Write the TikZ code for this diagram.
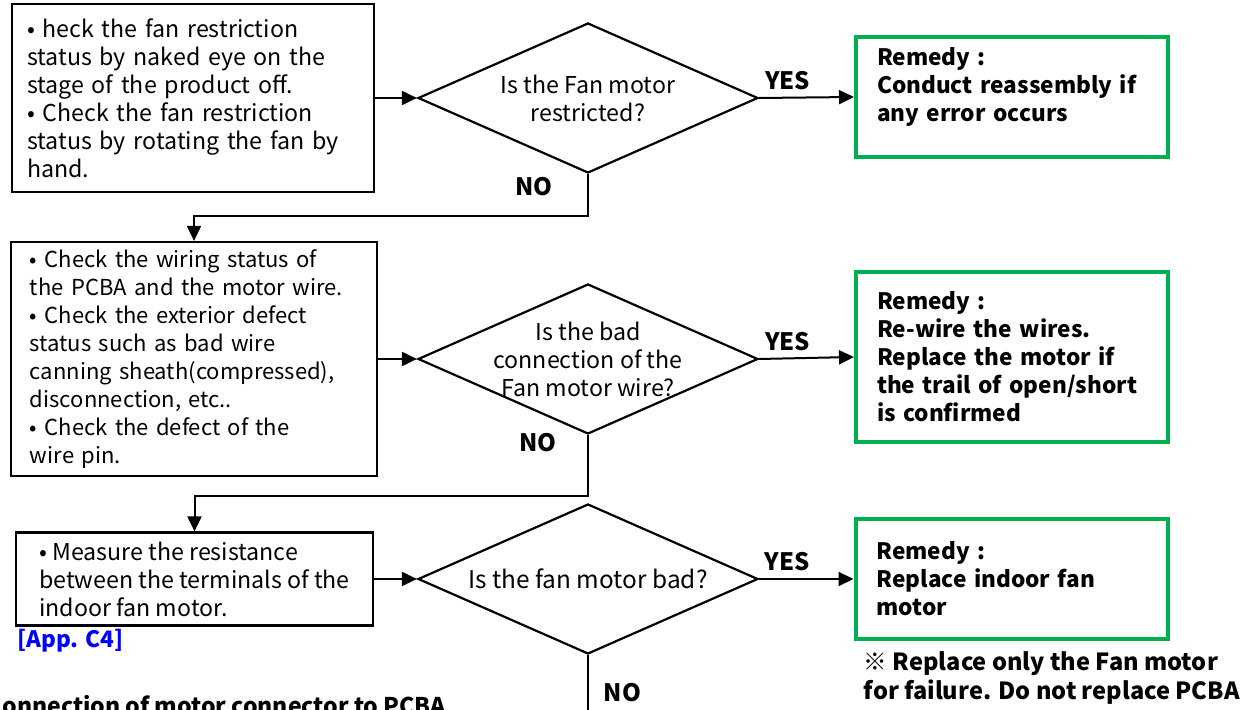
\documentclass[tikz,border=0pt]{standalone}
\usepackage{fontspec}
\setmainfont{Noto Sans CJK KR}
\usepackage{tikz}
\usetikzlibrary{arrows.meta,positioning,shapes.geometric}
\definecolor{remedygreen}{RGB}{0,176,80}
\definecolor{appblue}{RGB}{0,0,255}

\begin{document}
\begin{tikzpicture}[
  x=0.5pt, y=-0.5pt,
  txt/.style={font=\fontsize{11.6}{14}\selectfont},
  bold/.style={font=\bfseries\fontsize{11.3}{14}\selectfont},
  check/.style={draw, line width=1.1pt, align=left, txt, inner ysep=0pt},
  decision/.style={draw, diamond, line width=1.1pt, minimum width=170pt,
                   minimum height=75pt, inner sep=0pt},
  qtext/.style={align=center, txt},
  remedy/.style={draw=remedygreen, line width=2pt, align=left, bold,
                 text width=135pt, inner xsep=10.5pt},
  yn/.style={font=\bfseries\fontsize{12}{14}\selectfont},
  arr/.style={-{Triangle[length=7.5pt,width=7pt]}, line width=1pt},
  flow/.style={line width=1pt}
]
\useasboundingbox (0,0) rectangle (1244,710);

\node[check, text width=166pt, inner xsep=7.5pt, minimum height=94pt] (b1) at (193,98)
  {• heck the fan restriction\\ status by naked eye on the\\ stage of the product off.\\
   • Check the fan restriction\\ status by rotating the fan by\\ hand.};
\node[decision, label={[qtext]center:Is the Fan motor\\restricted?}] (q1) at (588,98) {};
\node[remedy, minimum height=60pt, text depth=41pt] (r1) at (1012,97)
  {Remedy :\\ Conduct reassembly if\\ any error occurs};

\node[check, font=\fontsize{11}{14}\selectfont, text width=164pt, inner xsep=9.5pt,
      minimum height=117pt] (b2) at (194,359)
  {• Check the wiring status of\\ the PCBA and the motor wire.\\ • Check the exterior defect\\
   status such as bad wire\\ canning sheath(compressed),\\ disconnection, etc..\\
   • Check the defect of the\\ wire pin.};
\node[decision, label={[qtext]center:Is the bad\\connection of the\\Fan motor wire?}] (q2) at (588,359) {};
\node[remedy, minimum height=85pt] (r2) at (1012,357)
  {Remedy :\\ Re-wire the wires.\\ Replace the motor if\\ the trail of open/short\\ is confirmed};

\node[check, minimum width=178.5pt, minimum height=46.5pt] (b3) at (194.5,579)
  {• Measure the resistance\\ between the terminals of the\\ indoor fan motor.};
\node[bold, text=appblue, inner sep=1pt,
      below=0pt of b3.south west, anchor=north west] (app) {[App. C4]};
\node[decision, label={[qtext, font=\fontsize{12.2}{14}\selectfont]center:Is the fan motor bad?}]
  (q3) at (588,579) {};
\node[remedy, minimum height=60pt] (r3) at (1011.5,579)
  {Remedy :\\ Replace indoor fan\\ motor};
\node[align=left, font=\bfseries\fontsize{11.8}{14.5}\selectfont, inner sep=0pt,
      below=5pt of r3.south west, anchor=north west, xshift=5pt] (note)
  {※ Replace only the Fan motor\\ for failure. Do not replace PCBA};

\node[font=\bfseries\fontsize{11.5}{14}\selectfont, inner sep=0pt, anchor=base west] (cut)
  at (2,715) {onnection of motor connector to PCBA};
\coordinate (q3end) at (588,730);

\draw[arr] (b1.east) -- (q1.west);
\draw[arr] (q1.east) -- node[yn, pos=0.3, above]{YES} (r1.west);
\draw[arr] (q1.south) -- node[yn, pos=0.3, left=14pt]{NO} ++(0,42) -| (b2.north);
\draw[arr] (b2.east) -- (q2.west);
\draw[arr] (q2.east) -- node[yn, pos=0.3, above]{YES} (r2.west);
\draw[arr] (q2.south) -- node[yn, pos=0.12, left=12pt]{NO} ++(0,61) -| (b3.north);
\draw[arr] (b3.east) -- (q3.west);
\draw[arr] (q3.east) -- node[yn, pos=0.3, above]{YES} (r3.west);
\draw[flow] (q3.south) -- node[yn, pos=0.5, right=4pt]{NO} (q3end);
\end{tikzpicture}
\end{document}
